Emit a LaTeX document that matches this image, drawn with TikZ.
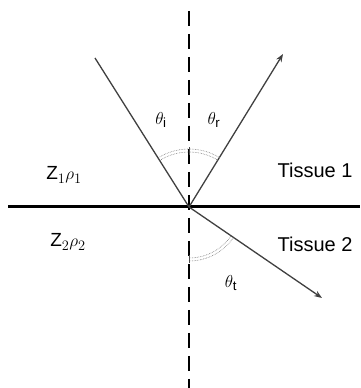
\documentclass[tikz,border=0pt]{standalone}
\usepackage{amsmath}
\usepackage{fontspec}
\setmainfont{Liberation Sans}
\usepackage{tikz}
\usetikzlibrary{arrows.meta, calc}

\begin{document}
\begin{tikzpicture}[x=1pt, y=1pt,
    ray/.style={line width=1.3pt, black!75},
    wave/.style={ray, -{Stealth[length=8pt, width=6pt]}},
    anglearc/.style={line width=0.6pt, black!55, densely dotted},
    lbl/.style={font=\fontsize{19}{22}\selectfont, inner sep=0pt}]
  \useasboundingbox (0, 0) rectangle (360, 388);
  % interface point and ray ends
  \coordinate (O)     at (189, 181);
  \coordinate (inc)   at (95, 330);
  \coordinate (refl)  at (283, 334);
  \coordinate (trans) at (322, 90);
  \coordinate (top)   at (189, 377);
  \coordinate (bot)   at (189, 0);
  \coordinate (west)  at (8, 181);
  \coordinate (east)  at (360, 181);
  % normal and boundary
  \draw[line width=2pt, dash pattern=on 15pt off 8pt] (top) -- (bot);
  \draw[line width=3pt] (west) -- (east);
  % rays
  \draw[ray] (inc) -- (O);
  \draw[wave] (O) -- (refl);
  \draw[wave] (O) -- (trans);
  % angle arcs
  \draw[anglearc] ($(O)+(58:55)$) arc (58:122:55);
  \draw[anglearc] ($(O)+(58:58)$) arc (58:122:58);
  \draw[line width=1pt, black!70] ($(O)+(0,52)$) -- ($(O)+(0,60)$);
  \draw[anglearc] ($(O)+(270:51)$) arc (270:325.6:51);
  \draw[anglearc] ($(O)+(270:54)$) arc (270:325.6:54);
  \draw[line width=1pt, black!70] ($(O)+(0,-48)$) -- ($(O)+(0,-56)$);
  % labels
  \node[lbl] (thi) at (161, 268) {$\theta_\mathrm{i}$};
  \node[lbl] (thr) at (214, 268) {$\theta_\mathrm{r}$};
  \node[lbl] (tht) at (231, 105) {$\theta_\mathrm{t}$};
  \node[lbl] (z1) at (64, 213) {Z$_1\rho_1$};
  \node[lbl] (z2) at (68, 146) {Z$_2\rho_2$};
  \node[lbl, font=\fontsize{20}{24}\selectfont] (t1) at (315, 218) {Tissue 1};
  \node[lbl, font=\fontsize{20}{24}\selectfont] (t2) at (315, 144) {Tissue 2};
\end{tikzpicture}
\end{document}
